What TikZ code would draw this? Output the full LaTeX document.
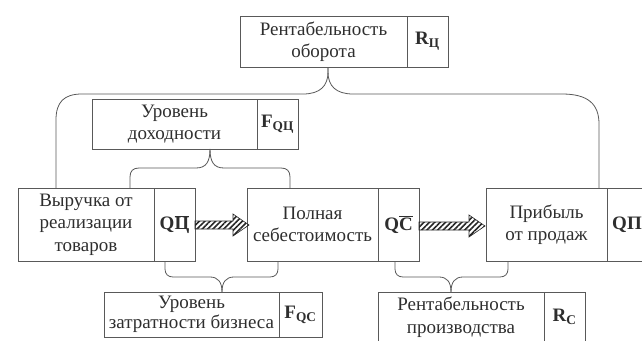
\documentclass[tikz,border=0pt]{standalone}
\usepackage{fontspec}
\setmainfont{Liberation Serif}
\usetikzlibrary{patterns.meta,calc}
\definecolor{lin}{gray}{0.35}
\definecolor{txt}{gray}{0.18}
\tikzset{
  cell/.style={draw=lin, line width=0.8pt, inner sep=0pt, outer sep=0pt, anchor=north west,
    align=center, text=txt, font=\fontsize{19}{22.5}\selectfont},
  sym/.style={cell, font=\fontsize{19}{22.5}\selectfont\bfseries},
  conn/.style={draw=lin, line width=0.8pt},
  hatcharrow/.style={draw=black!85, line width=0.6pt, line join=miter,
    pattern={Lines[angle=45,distance=3.8pt,line width=1.6pt]}, pattern color=black!85}
}
\begin{document}
\begin{tikzpicture}[x=1pt,y=-1pt]
\useasboundingbox (0,0) rectangle (642,340);
\clip (0,0) rectangle (642,340);
% boxes
\node[cell, minimum width=167pt, minimum height=51pt] (tT) at (240,16) {Рентабельность\\оборота};
\node[sym, minimum width=41pt, minimum height=51pt] (tS) at (407,16) {R\textsubscript{Ц}};
\node[cell, minimum width=165pt, minimum height=50pt] (dT) at (92,99) {Уровень\\доходности};
\node[sym, minimum width=41pt, minimum height=50pt] (dS) at (257,99) {F\textsubscript{QЦ}};
\node[cell, minimum width=136pt, minimum height=73pt] (vT) at (18,188) {Выручка от\\реализации\\товаров};
\node[sym, minimum width=41pt, minimum height=73pt] (vS) at (154,188) {Q$\overline{\hbox{Ц}}$};
\node[cell, minimum width=131pt, minimum height=73pt] (pT) at (247,188) {Полная\\себестоимость};
\node[sym, minimum width=41pt, minimum height=73pt] (pS) at (378,188) {Q$\overline{\hbox{C}}$};
\node[cell, minimum width=121pt, minimum height=73pt] (rT) at (486,188) {Прибыль\\от продаж};
\node[sym, minimum width=40pt, minimum height=73pt] (rS) at (607,188) {QП};
\node[cell, minimum width=175pt, minimum height=45pt, font=\fontsize{19}{20.5}\selectfont] (zT) at (104,292) {\raisebox{-2pt}{\shortstack{Уровень\\[-1pt]затратности бизнеса}}};
\node[sym, minimum width=43pt, minimum height=45pt] (zS) at (279,292) {F\textsubscript{QC}};
\node[cell, minimum width=166pt, minimum height=50pt] (kT) at (378,292) {Рентабельность\\производства};
\node[sym, minimum width=41pt, minimum height=50pt] (kS) at (544,292) {R\textsubscript{C}};
% brace coordinates
\coordinate (tTip) at ($(tT.south west)+(88,0)$);
\coordinate (tL) at ($(vT.north west)+(38,0)$);
\coordinate (tR) at ($(rT.north west)+(113,0)$);
\coordinate (dTip) at ($(dT.south west)+(118,0)$);
\coordinate (dL) at ($(vT.north west)+(112,0)$);
\coordinate (dR) at ($(pT.north west)+(43,0)$);
\coordinate (zTip) at ($(zT.north west)+(118,0)$);
\coordinate (zL) at ($(vS.south west)+(11,0)$);
\coordinate (zR) at ($(pT.south west)+(31,0)$);
\coordinate (kTip) at ($(kT.north west)+(73,0)$);
\coordinate (kL) at ($(pS.south west)+(17,0)$);
\coordinate (kR) at ($(rT.south west)+(22,0)$);
% top brace
\draw[conn] (tL) -- (56,120) .. controls (56,102) and (64,94) .. (82,94) -- (303,94)
  .. controls (320,94) and (328,86) .. (328,72) -- (tTip);
\draw[conn] (tR) -- (599,124) .. controls (599,104) and (588,94) .. (562,94) -- (353,94)
  .. controls (336,94) and (328,86) .. (328,72) -- (tTip);
% brace under доходности
\draw[conn] (dL) -- (130,177) .. controls (130,171) and (133,168) .. (139,168) -- (196,168)
  .. controls (206,168) and (210,162) .. (dTip);
\draw[conn] (dR) -- (290,177) .. controls (290,171) and (287,168) .. (281,168) -- (224,168)
  .. controls (214,168) and (210,162) .. (dTip);
% brace over затратности
\draw[conn] (zL) -- (165,269) .. controls (165,274) and (168,277) .. (173,277) -- (210,277)
  .. controls (218,277) and (222,282) .. (zTip);
\draw[conn] (zR) -- (278,269) .. controls (278,274) and (275,277) .. (270,277) -- (234,277)
  .. controls (226,277) and (222,282) .. (zTip);
% brace over рентабельность производства
\draw[conn] (kL) -- (395,269) .. controls (395,274) and (398,277) .. (403,277) -- (439,277)
  .. controls (447,277) and (451,282) .. (kTip);
\draw[conn] (kR) -- (508,269) .. controls (508,274) and (505,277) .. (500,277) -- (463,277)
  .. controls (455,277) and (451,282) .. (kTip);
% hatched arrows
\path[hatcharrow] (vS.east |- 0,221) -- (233,221) -- (233,214) -- (249,225) -- (233,236) -- (233,229) -- (vS.east |- 0,229) -- cycle;
\path[hatcharrow] (pS.east |- 0,222) -- (469,222) -- (469,215) -- (485,226) -- (469,237) -- (469,230) -- (pS.east |- 0,230) -- cycle;
\end{tikzpicture}
\end{document}
